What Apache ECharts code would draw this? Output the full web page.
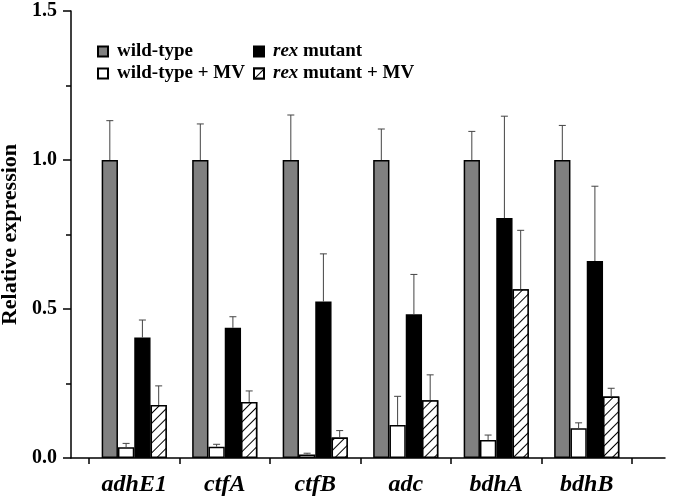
<!DOCTYPE html>
<html><head><meta charset="utf-8">
<script src="https://cdn.jsdelivr.net/npm/echarts@6/dist/echarts.min.js"></script>
<style>html,body{margin:0;padding:0;background:#fff}#c{width:680px;height:497px}</style>
</head><body><div id="c"></div>
<script>
const categories = ['adhE1', 'ctfA', 'ctfB', 'adc', 'bdhA', 'bdhB'];
const seriesNames = ['wild-type', 'wild-type + MV', 'rex mutant', 'rex mutant + MV'];
const wildType      = [1.000, 1.000, 1.000, 1.000, 1.000, 1.000];
const wildTypeSD    = [0.132, 0.121, 0.151, 0.104, 0.096, 0.116];
const wildTypeMV    = [0.036, 0.038, 0.012, 0.111, 0.060, 0.100];
const wildTypeMVSD  = [0.013, 0.008, 0.004, 0.096, 0.017, 0.018];
const rexMutant     = [0.404, 0.437, 0.525, 0.482, 0.805, 0.661];
const rexMutantSD   = [0.059, 0.037, 0.160, 0.134, 0.342, 0.251];
const rexMutantMV   = [0.178, 0.188, 0.069, 0.194, 0.566, 0.206];
const rexMutantMVSD = [0.064, 0.037, 0.023, 0.085, 0.198, 0.028];
const yTicks = [0, 0.5, 1.0, 1.5];

const FONT = '"Liberation Serif", "Times New Roman", serif';
const CAT_GAP = 0.28;
const values = [wildType, wildTypeMV, rexMutant, rexMutantMV];
const sds = [wildTypeSD, wildTypeMVSD, rexMutantSD, rexMutantMVSD];
const styles = [
  { color: '#808080', borderColor: '#000', borderWidth: 1.5 },
  { color: '#ffffff', borderColor: '#000', borderWidth: 1.5 },
  { color: '#000000', borderColor: '#000', borderWidth: 1.5 },
  { color: '#ffffff', borderColor: '#000', borderWidth: 1.5,
    decal: { symbol: 'rect', symbolSize: 1, dashArrayX: [1, 0], dashArrayY: [1, 6],
             rotation: -Math.PI / 4, color: '#000', backgroundColor: '#fff' } }
];

const barSeries = seriesNames.map((n, k) => ({
  name: n, type: 'bar', xAxisIndex: 1, yAxisIndex: 1,
  data: values[k], barGap: '0%', barCategoryGap: (CAT_GAP * 100) + '%',
  itemStyle: styles[k], emphasis: { disabled: true }, z: 2
}));

const errSeries = seriesNames.map((n, k) => ({
  name: n + ' err', type: 'custom', xAxisIndex: 1, yAxisIndex: 1, z: 3,
  data: values[k].map((v, i) => [i, v, sds[k][i]]),
  encode: { x: 0, y: 1 },
  renderItem: function (params, api) {
    const x = api.value(0), v = api.value(1), e = api.value(2);
    const base = api.coord([x, v]);
    const top = api.coord([x, v + e]);
    const band = api.size([1, 0])[0];
    const bw = band * (1 - CAT_GAP) / 4;
    const cx = base[0] + (k - 1.5) * bw;
    const st = { stroke: '#444', lineWidth: 1 };
    return { type: 'group', children: [
      { type: 'line', shape: { x1: cx, y1: base[1], x2: cx, y2: top[1] }, style: st },
      { type: 'line', shape: { x1: cx - 3.5, y1: top[1], x2: cx + 3.5, y2: top[1] }, style: st }
    ]};
  }
}));

const LFS = 19;
const legendFmt = name => name.indexOf('rex') === 0 ? '{i|rex}{b|' + name.slice(3) + '}' : '{b|' + name + '}';
const legendText = {
  fontFamily: FONT, fontSize: LFS, fontWeight: 'bold', color: '#000', padding: [0, 0, 0, 4],
  rich: {
    i: { fontFamily: FONT, fontSize: LFS, fontWeight: 'bold', fontStyle: 'italic', color: '#000' },
    b: { fontFamily: FONT, fontSize: LFS, fontWeight: 'bold', color: '#000' }
  }
};
const legendBase = {
  orient: 'vertical', top: 42, padding: 0, itemWidth: 10, itemHeight: 10, itemGap: 3,
  icon: 'rect', selectedMode: false, formatter: legendFmt, textStyle: legendText
};

const chart = echarts.init(document.getElementById('c'));
chart.setOption({
  animation: false,
  backgroundColor: '#fff',
  legend: [
    Object.assign({ left: 97, data: [seriesNames[0], seriesNames[1]] }, legendBase),
    Object.assign({ left: 253, data: [seriesNames[2], seriesNames[3]] }, legendBase)
  ],
  grid: [
    { left: 71, right: 15, top: 11, bottom: 39, outerBoundsMode: 'none', containLabel: false },
    { left: 89, right: 48, top: 11, bottom: 39, outerBoundsMode: 'none', containLabel: false }
  ],
  xAxis: [
    { gridIndex: 0, type: 'value', min: 0, max: 1,
      axisLine: { show: true, lineStyle: { color: '#000', width: 1.5 } },
      axisTick: { show: false }, axisLabel: { show: false }, splitLine: { show: false } },
    { gridIndex: 1, type: 'category', data: categories,
      axisLine: { show: false },
      axisTick: { show: true, length: 6, inside: false, lineStyle: { color: '#000', width: 1.5 } },
      axisLabel: { margin: 15, fontFamily: FONT, fontSize: 24, fontWeight: 'bold', fontStyle: 'italic', color: '#000' },
      splitLine: { show: false } }
  ],
  yAxis: [
    { gridIndex: 0, type: 'value', min: yTicks[0], max: yTicks[yTicks.length - 1], interval: 0.5,
      name: 'Relative expression', nameLocation: 'middle', nameGap: 36,
      nameTextStyle: { fontFamily: FONT, fontSize: 22, fontWeight: 'bold', color: '#000' },
      axisLine: { show: true, lineStyle: { color: '#000', width: 1.5 } },
      axisTick: { show: true, length: 8, lineStyle: { color: '#000', width: 1.5 } },
      minorTick: { show: true, splitNumber: 2, length: 5, lineStyle: { color: '#000', width: 1.5 } },
      axisLabel: { margin: 14, fontFamily: FONT, fontSize: 20, fontWeight: 'bold', color: '#000',
                   formatter: v => v.toFixed(1) },
      splitLine: { show: false } },
    { gridIndex: 1, type: 'value', min: yTicks[0], max: yTicks[yTicks.length - 1],
      show: false, splitLine: { show: false } }
  ],
  series: barSeries.concat(errSeries)
});
</script></body></html>
